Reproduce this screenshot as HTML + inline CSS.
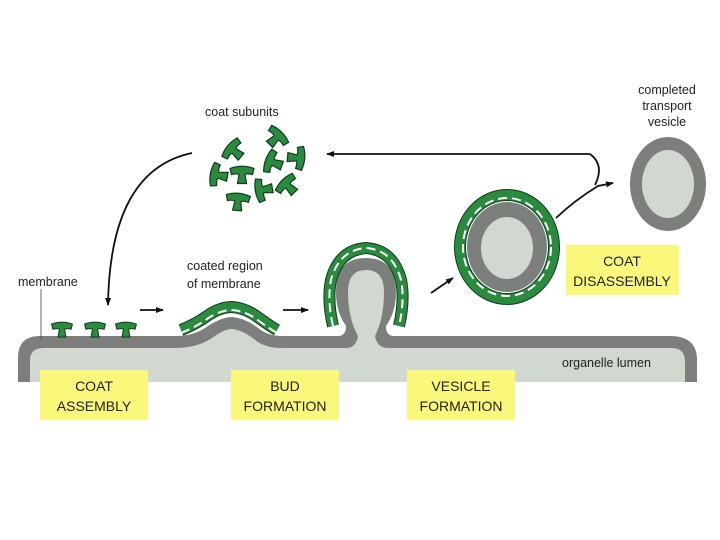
<!DOCTYPE html>
<html><head><meta charset="utf-8"><style>
html,body{margin:0;padding:0;background:#fff}
svg{display:block}
text{font-family:"Liberation Sans",sans-serif;fill:#222}
.lb{font-size:14px;fill:#222;text-anchor:middle}
</style></head><body>
<svg width="720" height="540" viewBox="0 0 720 540" xmlns="http://www.w3.org/2000/svg">
<defs>
<g id="su"><path d="M-8,-3 Q0,-6 8,-3 L7,1 Q3,0 2,1 L3,7 L-3,7 L-2,1 Q-3,0 -7,1 Z" fill="#2a8a3e" stroke="#0f3d1a" stroke-width="0.8"/></g>
<marker id="ah" markerWidth="8" markerHeight="8" refX="7" refY="4" orient="auto" markerUnits="userSpaceOnUse"><path d="M0,1 L8,4 L0,7 Z" fill="#111"/></marker>
</defs>
<!-- membrane body -->
<path d="M18,382 L18,358 Q18,336 40,336 L175,336 Q195,336 208,326 Q222,317 232,317 Q245,318 258,328 Q268,336 282,336 L338,336 Q346,336 346,326 Q336,312 336,292 Q336,258 366,258 Q396,258 396,292 Q396,312 386,326 Q386,336 394,336 L670,336 Q697,336 697,360 L697,382 Z" fill="#7d7f7c"/>
<path d="M30,382 L30,360 Q30,348 44,348 L175,348 Q197,348 212,338 Q224,329 232,329 Q242,330 254,339 Q264,348 282,348 L346,348 Q356,348 358,336 Q348,318 348,292 Q348,270 366,270 Q384,270 384,292 Q384,318 375,336 Q377,348 388,348 L672,348 Q685,348 685,362 L685,382 Z" fill="#d0d8cf"/>
<!-- coats -->
<g fill="none">
<path d="M181,330 Q196,324 207,316 Q220,307 232,307 Q246,308 259,318 Q270,326 277,330" stroke="#0f3d1a" stroke-width="12"/>
<path d="M181,330 Q196,324 207,316 Q220,307 232,307 Q246,308 259,318 Q270,326 277,330" stroke="#2a8a3e" stroke-width="10"/>
<path d="M181,330 Q196,324 207,316 Q220,307 232,307 Q246,308 259,318 Q270,326 277,330" stroke="#fff" stroke-width="2" stroke-dasharray="9,5" transform="translate(0,3)"/>
<path d="M333,326 Q327,300 331,280 Q339,250 366,248 Q393,250 401,280 Q405,300 399,326" stroke="#0f3d1a" stroke-width="12"/>
<path d="M333,326 Q327,300 331,280 Q339,250 366,248 Q393,250 401,280 Q405,300 399,326" stroke="#2a8a3e" stroke-width="10"/>
<path d="M333,326 Q327,300 331,280 Q339,250 366,248 Q393,250 401,280 Q405,300 399,326" stroke="#fff" stroke-width="2" stroke-dasharray="9,5"/>
<ellipse cx="507" cy="247" rx="47" ry="52" stroke="#0f3d1a" stroke-width="12"/>
<ellipse cx="507" cy="247" rx="47" ry="52" stroke="#2a8a3e" stroke-width="10"/>
<ellipse cx="507" cy="247" rx="44" ry="49" stroke="#fff" stroke-width="2" stroke-dasharray="9,5"/>
</g>
<use href="#su" transform="translate(62,328) scale(1.3)"/>
<use href="#su" transform="translate(95,328) scale(1.3)"/>
<use href="#su" transform="translate(126,328) scale(1.3)"/>
<!-- coated vesicle -->
<ellipse cx="507" cy="247" rx="40" ry="45" fill="#7d7f7c"/>
<ellipse cx="507" cy="248" rx="26" ry="31" fill="#d0d8cf"/>
<!-- completed vesicle -->
<ellipse cx="668" cy="184" rx="38" ry="47" fill="#7d7f7c"/>
<ellipse cx="668" cy="184" rx="26" ry="34" fill="#d0d8cf"/>
<!-- subunits -->
<use href="#su" transform="translate(233,150) rotate(-50) scale(1.5)"/>
<use href="#su" transform="translate(277,137) rotate(45) scale(1.5)"/>
<use href="#su" transform="translate(298,158) rotate(95) scale(1.5)"/>
<use href="#su" transform="translate(217,175) rotate(-80) scale(1.5)"/>
<use href="#su" transform="translate(242,173) rotate(0) scale(1.5)"/>
<use href="#su" transform="translate(272,162) rotate(-70) scale(1.5)"/>
<use href="#su" transform="translate(262,190) rotate(-100) scale(1.5)"/>
<use href="#su" transform="translate(287,185) rotate(-45) scale(1.5)"/>
<use href="#su" transform="translate(238,200) rotate(5) scale(1.5)"/>
<!-- arrows -->
<g stroke="#111" stroke-width="1.8" fill="none">
<path d="M192,153 Q110,170 108,305" marker-end="url(#ah)"/>
<path d="M590,154 L327,154" marker-end="url(#ah)"/>
<path d="M590,154 Q605,165 595,185"/>
<path d="M556,218 Q575,200 598,186 L613,183" marker-end="url(#ah)"/>
<path d="M140,310 L163,310" marker-end="url(#ah)"/>
<path d="M283,310 L308,310" marker-end="url(#ah)"/>
<path d="M431,293 L453,278" marker-end="url(#ah)"/>
</g>
<line x1="41" y1="289" x2="41" y2="340" stroke="#444" stroke-width="0.8"/>
<!-- labels -->
<rect x="40" y="370" width="108" height="50" fill="#f9f87a"/>
<rect x="231" y="370" width="108" height="50" fill="#f9f87a"/>
<rect x="407" y="370" width="108" height="50" fill="#f9f87a"/>
<rect x="566" y="245" width="113" height="50" fill="#f9f87a"/>
<text class="lb" x="94" y="391">COAT</text><text class="lb" x="94" y="411">ASSEMBLY</text>
<text class="lb" x="285" y="391">BUD</text><text class="lb" x="285" y="411">FORMATION</text>
<text class="lb" x="461" y="391">VESICLE</text><text class="lb" x="461" y="411">FORMATION</text>
<text class="lb" x="622" y="266">COAT</text><text class="lb" x="622" y="286">DISASSEMBLY</text>
<g>
<text x="18" y="286" font-size="12.5">membrane</text>
<text x="187" y="270" font-size="12.5">coated region</text>
<text x="187" y="288" font-size="12.5">of membrane</text>
<text x="205" y="116" font-size="12.5">coat subunits</text>
<text x="562" y="367" font-size="12.5">organelle lumen</text>
<text x="667" y="94" font-size="12.5" text-anchor="middle">completed</text>
<text x="667" y="110" font-size="12.5" text-anchor="middle">transport</text>
<text x="667" y="126" font-size="12.5" text-anchor="middle">vesicle</text>
</g>
</svg>
</body></html>
